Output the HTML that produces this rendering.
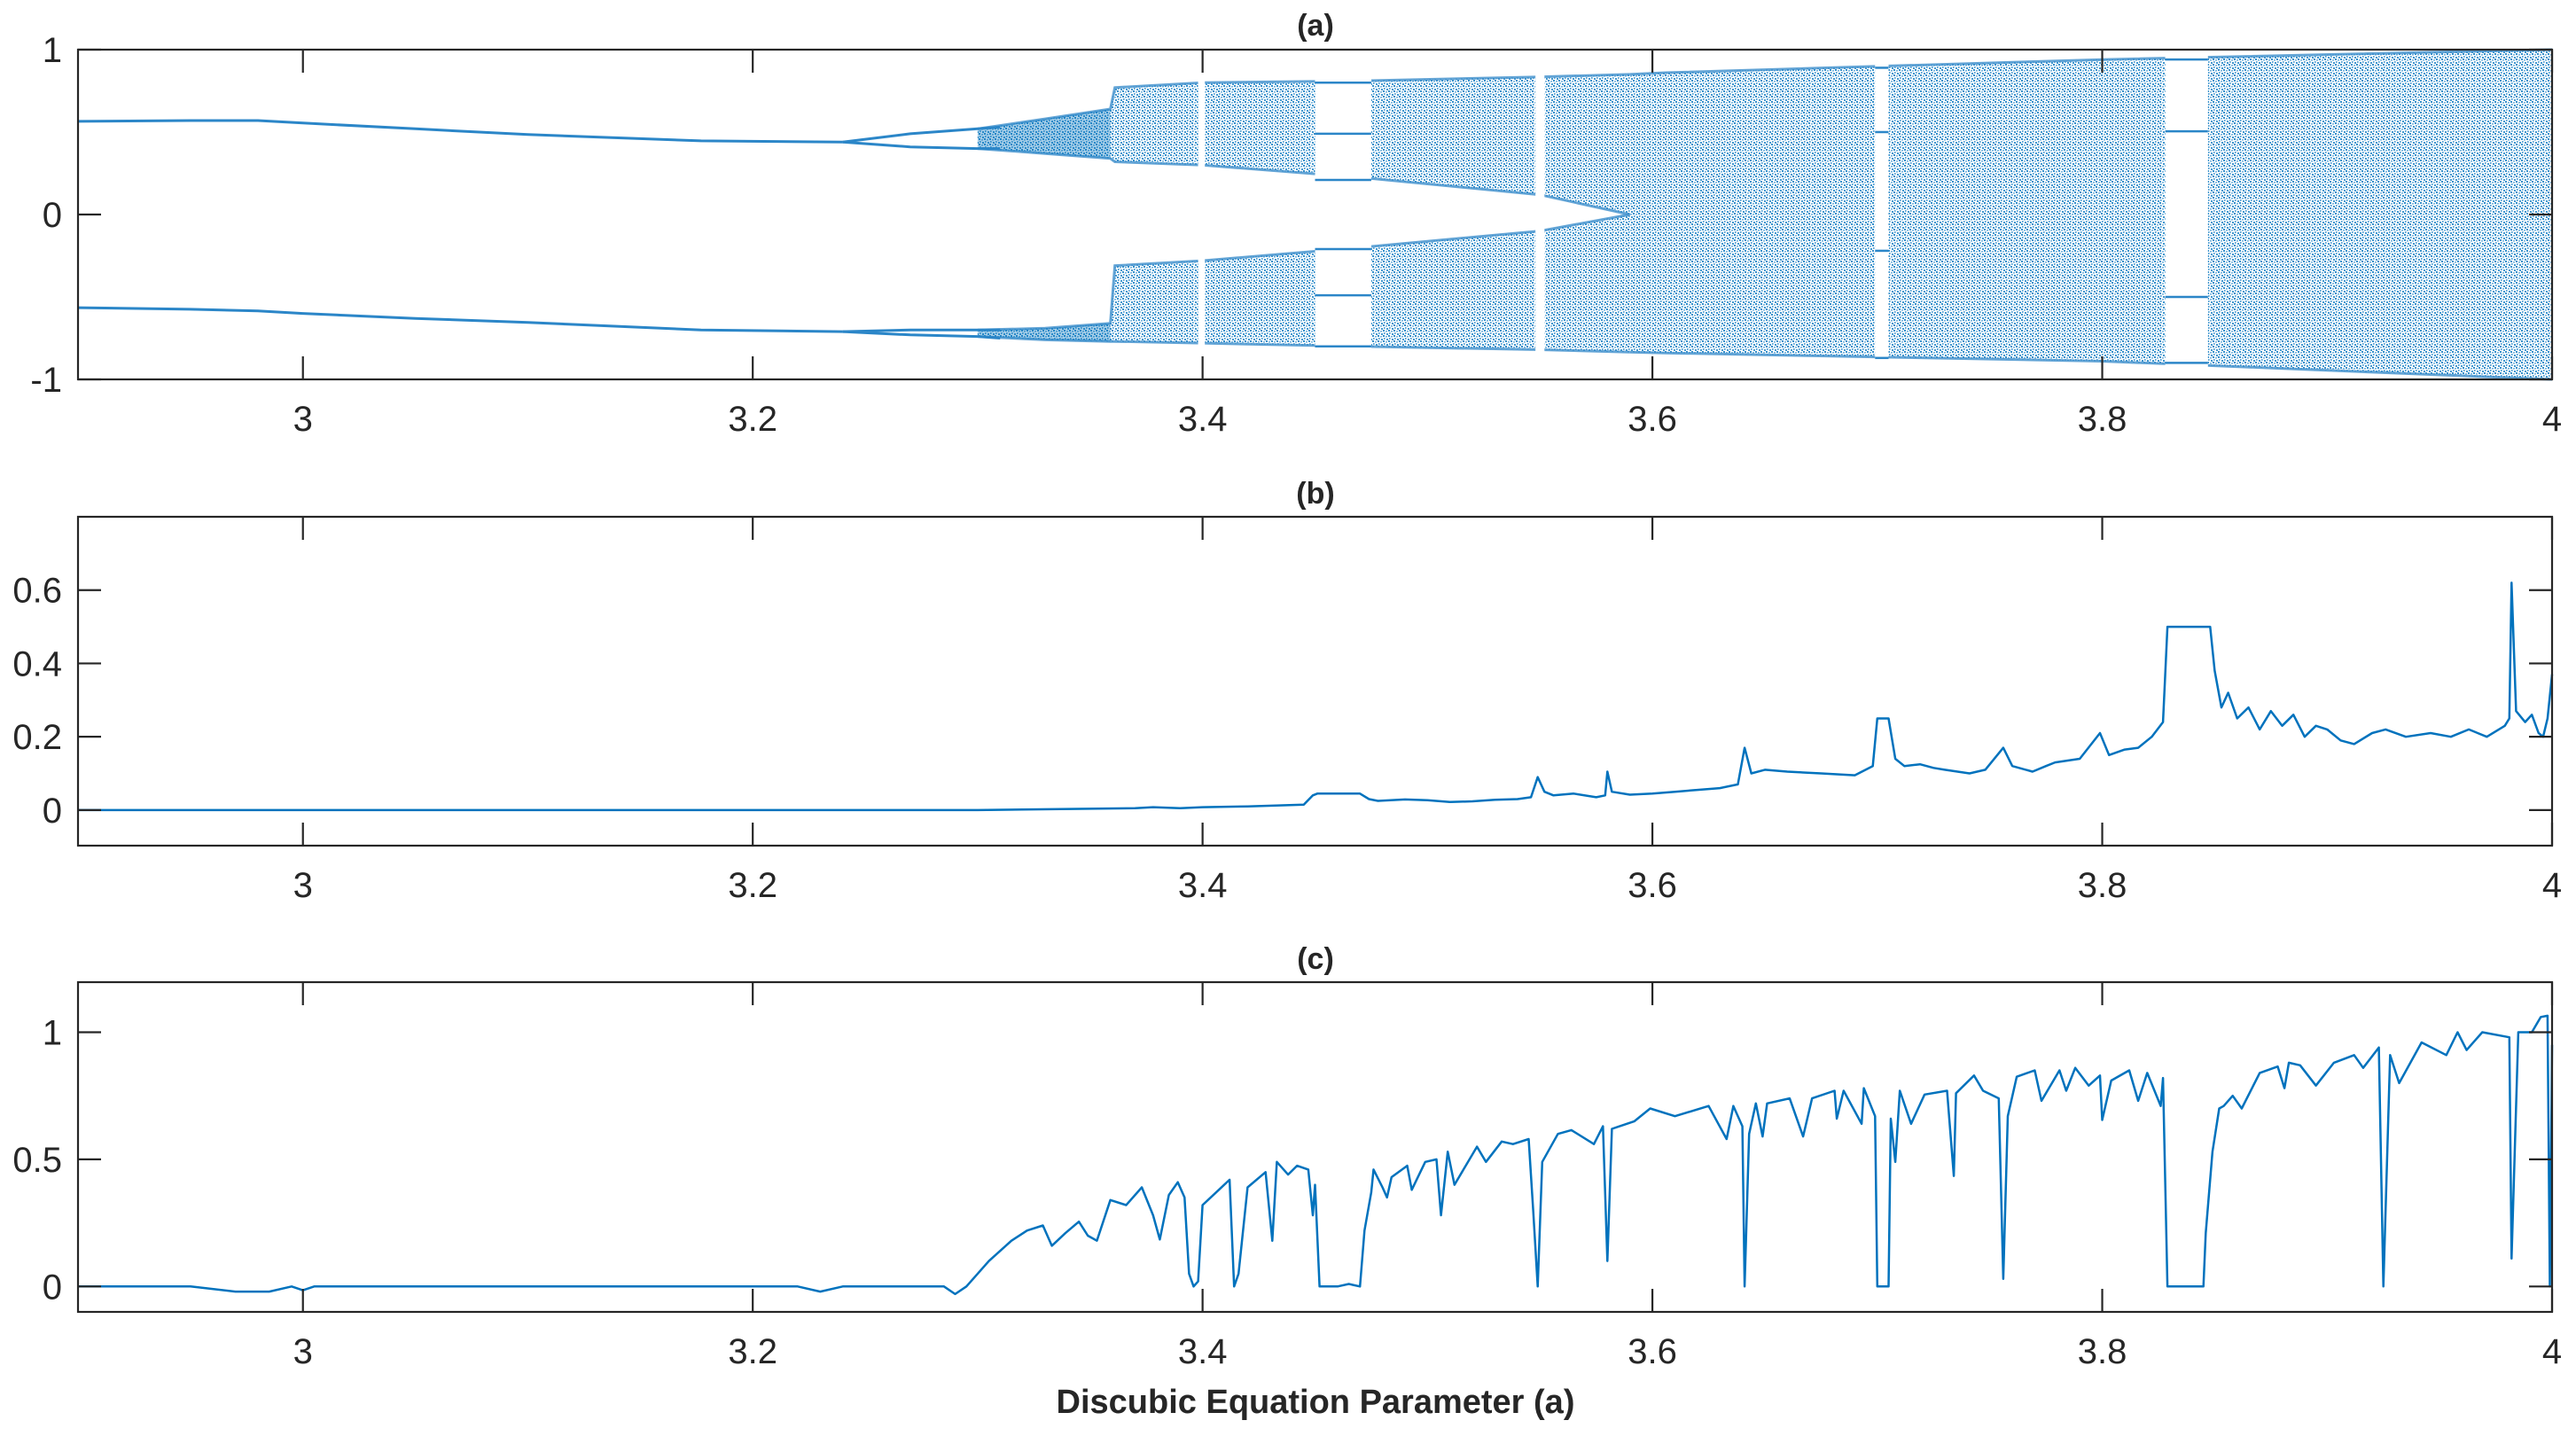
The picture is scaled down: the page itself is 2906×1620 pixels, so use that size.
<!DOCTYPE html>
<html><head><meta charset="utf-8"><style>
html,body{margin:0;padding:0;background:#fff;}
svg{display:block;}
text{font-family:"Liberation Sans",Arial,sans-serif;fill:#262626;}
</style></head><body>
<svg id="fig" width="2906" height="1620" viewBox="0 0 2906 1620" xmlns="http://www.w3.org/2000/svg">
<defs>
<pattern id="speck" width="6" height="6" patternUnits="userSpaceOnUse">
<rect x="0" y="0" width="2" height="2" fill="#0072BD" opacity="0.8"/>
<rect x="3" y="1" width="2" height="1.6" fill="#0072BD" opacity="0.55"/>
<rect x="1" y="3" width="1.6" height="2" fill="#0072BD" opacity="0.65"/>
<rect x="4" y="4" width="2" height="2" fill="#0072BD" opacity="0.75"/>
</pattern>
</defs>
<rect x="0" y="0" width="2906" height="1620" fill="#fff"/>
<g id="gA"></g>
<g id="gB"></g>
<g id="gC"></g>
<text x="1484" y="1594" text-anchor="middle" font-size="38" font-weight="bold">Discubic Equation Parameter (a)</text>
</svg>
<script>
// ---------- shared x axis ----------
const xTicks = [3, 3.2, 3.4, 3.6, 3.8, 4];
const xTickLabels = ["3", "3.2", "3.4", "3.6", "3.8", "4"];

// ---------- panel (a) bifurcation data ----------
const aUpLineX = [2.9, 2.95, 2.98, 3.0, 3.05, 3.1, 3.177, 3.24];
const aUpLineV = [0.565, 0.57, 0.57, 0.555, 0.52, 0.485, 0.447, 0.44];
const aLoLineX = [2.9, 2.95, 2.98, 3.0, 3.05, 3.1, 3.177, 3.24];
const aLoLineV = [-0.565, -0.575, -0.585, -0.60, -0.63, -0.655, -0.70, -0.71];
const aLensX = [3.24, 3.27, 3.30, 3.31];
const aUpLensTop = [0.44, 0.49, 0.52, 0.53];
const aUpLensBot = [0.44, 0.41, 0.40, 0.40];
const aLoLensTop = [-0.71, -0.70, -0.70, -0.70];
const aLoLensBot = [-0.71, -0.73, -0.74, -0.75];
const aBandX = [3.30, 3.33, 3.359, 3.361, 3.40, 3.47, 3.55, 3.59];
const aUpBandTop = [0.52, 0.58, 0.64, 0.77, 0.80, 0.81, 0.835, 0.85];
const aUpBandBot = [0.40, 0.37, 0.34, 0.32, 0.30, 0.225, 0.12, 0.0];
const aLoBandTop = [-0.70, -0.69, -0.66, -0.31, -0.28, -0.20, -0.10, 0.0];
const aLoBandBot = [-0.74, -0.76, -0.77, -0.77, -0.78, -0.80, -0.82, -0.835];
const aMergedX = [3.59, 3.606, 3.80, 4.0];
const aMergedTop = [0.85, 0.86, 0.94, 1.0];
const aMergedBot = [-0.835, -0.84, -0.89, -1.0];
const aWinStart = [3.398, 3.450, 3.548, 3.699, 3.828];
const aWinEnd = [3.401, 3.475, 3.552, 3.705, 3.847];
const aWin2Lines = [0.80, 0.49, 0.21, -0.21, -0.49, -0.80];
const aWin4Lines = [0.89, 0.5, -0.22, -0.87];
const aWin5Lines = [0.94, 0.505, -0.50, -0.90];
const aYTicks = [-1, 0, 1];
const aYTickLabels = ["-1", "0", "1"];

// ---------- panel (b) data ----------
const bX = [2.9, 3.30, 3.37, 3.378, 3.39, 3.40, 3.42, 3.445, 3.449, 3.451, 3.47, 3.474, 3.478, 3.49, 3.50, 3.51, 3.52, 3.53, 3.54, 3.546, 3.549, 3.552, 3.556, 3.565, 3.575, 3.579, 3.580, 3.582, 3.59, 3.60, 3.61, 3.62, 3.63, 3.638, 3.641, 3.644, 3.65, 3.66, 3.675, 3.69, 3.698, 3.700, 3.705, 3.708, 3.712, 3.719, 3.725, 3.73, 3.741, 3.748, 3.756, 3.76, 3.769, 3.775, 3.779, 3.79, 3.799, 3.803, 3.81, 3.816, 3.822, 3.827, 3.829, 3.848, 3.850, 3.853, 3.856, 3.860, 3.865, 3.870, 3.875, 3.880, 3.885, 3.890, 3.895, 3.900, 3.906, 3.912, 3.920, 3.926, 3.935, 3.946, 3.955, 3.963, 3.971, 3.979, 3.981, 3.982, 3.984, 3.988, 3.991, 3.994, 3.996, 3.998, 4.0];
const bV = [0.0, 0.0, 0.005, 0.008, 0.005, 0.008, 0.01, 0.015, 0.04, 0.045, 0.045, 0.03, 0.025, 0.029, 0.027, 0.022, 0.024, 0.028, 0.03, 0.035, 0.09, 0.05, 0.04, 0.045, 0.035, 0.04, 0.105, 0.05, 0.042, 0.045, 0.05, 0.055, 0.06, 0.07, 0.17, 0.1, 0.11, 0.105, 0.1, 0.095, 0.12, 0.25, 0.25, 0.14, 0.12, 0.125, 0.115, 0.11, 0.10, 0.11, 0.17, 0.12, 0.105, 0.12, 0.13, 0.14, 0.21, 0.15, 0.165, 0.17, 0.2, 0.24, 0.5, 0.5, 0.38, 0.28, 0.32, 0.25, 0.28, 0.22, 0.27, 0.23, 0.26, 0.2, 0.23, 0.22, 0.19, 0.18, 0.21, 0.22, 0.2, 0.21, 0.2, 0.22, 0.2, 0.23, 0.25, 0.62, 0.27, 0.24, 0.26, 0.21, 0.2, 0.25, 0.37];
const bYTicks = [0, 0.2, 0.4, 0.6];
const bYTickLabels = ["0", "0.2", "0.4", "0.6"];

// ---------- panel (c) data ----------
const cX = [2.9, 2.95, 2.97, 2.985, 2.995, 3.0, 3.005, 3.22, 3.23, 3.24, 3.285, 3.29, 3.295, 3.305, 3.315, 3.322, 3.329, 3.333, 3.339, 3.345, 3.349, 3.353, 3.359, 3.366, 3.373, 3.378, 3.381, 3.385, 3.389, 3.392, 3.394, 3.396, 3.398, 3.40, 3.406, 3.412, 3.414, 3.416, 3.42, 3.428, 3.431, 3.433, 3.438, 3.442, 3.447, 3.449, 3.45, 3.452, 3.46, 3.465, 3.470, 3.472, 3.475, 3.476, 3.480, 3.482, 3.484, 3.491, 3.493, 3.499, 3.504, 3.506, 3.509, 3.512, 3.522, 3.526, 3.533, 3.538, 3.545, 3.547, 3.549, 3.551, 3.558, 3.564, 3.574, 3.578, 3.580, 3.582, 3.592, 3.599, 3.610, 3.625, 3.633, 3.636, 3.640, 3.641, 3.643, 3.646, 3.649, 3.651, 3.661, 3.667, 3.671, 3.681, 3.682, 3.685, 3.693, 3.694, 3.699, 3.700, 3.705, 3.706, 3.708, 3.710, 3.715, 3.721, 3.731, 3.734, 3.735, 3.743, 3.747, 3.754, 3.756, 3.758, 3.762, 3.770, 3.773, 3.781, 3.784, 3.788, 3.794, 3.799, 3.800, 3.804, 3.812, 3.816, 3.820, 3.826, 3.827, 3.829, 3.845, 3.846, 3.849, 3.852, 3.854, 3.858, 3.862, 3.870, 3.878, 3.881, 3.883, 3.888, 3.895, 3.903, 3.912, 3.916, 3.923, 3.925, 3.928, 3.932, 3.942, 3.953, 3.958, 3.962, 3.969, 3.981, 3.982, 3.985, 3.991, 3.995, 3.998, 3.999, 4.0];
const cV = [0, 0, -0.02, -0.02, 0.0, -0.015, 0, 0, -0.02, 0, 0, -0.03, 0.0, 0.1, 0.18, 0.22, 0.24, 0.16, 0.21, 0.255, 0.2, 0.18, 0.34, 0.32, 0.39, 0.28, 0.185, 0.36, 0.41, 0.35, 0.05, 0.0, 0.02, 0.32, 0.37, 0.42, 0.0, 0.05, 0.39, 0.45, 0.18, 0.49, 0.44, 0.475, 0.46, 0.28, 0.4, 0.0, 0.0, 0.01, 0.0, 0.22, 0.37, 0.46, 0.39, 0.35, 0.43, 0.475, 0.38, 0.49, 0.5, 0.28, 0.53, 0.4, 0.55, 0.49, 0.57, 0.56, 0.58, 0.3, 0.0, 0.49, 0.6, 0.615, 0.56, 0.63, 0.1, 0.62, 0.65, 0.70, 0.67, 0.71, 0.58, 0.71, 0.63, 0.0, 0.6, 0.72, 0.59, 0.72, 0.74, 0.59, 0.74, 0.77, 0.66, 0.77, 0.64, 0.78, 0.67, 0.0, 0.0, 0.66, 0.49, 0.77, 0.64, 0.755, 0.77, 0.435, 0.76, 0.83, 0.77, 0.74, 0.03, 0.67, 0.825, 0.85, 0.73, 0.85, 0.77, 0.86, 0.79, 0.83, 0.655, 0.81, 0.85, 0.73, 0.84, 0.71, 0.82, 0.0, 0.0, 0.21, 0.53, 0.7, 0.71, 0.75, 0.7, 0.84, 0.865, 0.78, 0.88, 0.87, 0.79, 0.88, 0.91, 0.86, 0.94, 0.0, 0.91, 0.8, 0.96, 0.91, 1.0, 0.93, 1.0, 0.98, 0.11, 1.0, 1.0, 1.06, 1.065, 0.0, 0.95];
const cYTicks = [0, 0.5, 1];
const cYTickLabels = ["0", "0.5", "1"];

// ---------- layout ----------
const NS = "http://www.w3.org/2000/svg";
const X0 = 88, X1 = 2879, XMIN = 2.9, XMAX = 4.0;
function sx(a) { return X0 + (a - XMIN) / (XMAX - XMIN) * (X1 - X0); }
function makeY(top, bottom, vmin, vmax) { return v => bottom - (v - vmin) / (vmax - vmin) * (bottom - top); }
function el(tag, attrs, parent) { const e = document.createElementNS(NS, tag); for (const k in attrs) e.setAttribute(k, attrs[k]); parent.appendChild(e); return e; }

function drawAxes(g, top, bottom, sy, yTicks, yLabels, title, titleY) {
  const frame = el('rect', {x: X0, y: top, width: X1 - X0, height: bottom - top, fill: 'none', stroke: '#262626', 'stroke-width': 2.2}, g);
  
  
  xTicks.forEach((t, i) => {
    const x = sx(t);
    const tk = el('path', {d: `M${x},${bottom}v-26M${x},${top}v26`, stroke: '#262626', 'stroke-width': 2.2, fill: 'none'}, g);
    
    
    const lb = el('text', {x: x, y: bottom + 58, 'text-anchor': 'middle', 'font-size': 40}, g);
    lb.textContent = xTickLabels[i];
    
    
  });
  yTicks.forEach((t, i) => {
    const y = sy(t);
    const tk = el('path', {d: `M${X0},${y}h26M${X1},${y}h-26`, stroke: '#262626', 'stroke-width': 2.2, fill: 'none'}, g);
    
    
    const lb = el('text', {x: 70, y: y + 14, 'text-anchor': 'end', 'font-size': 40}, g);
    lb.textContent = yLabels[i];
    
    
  });
  const tt = el('text', {x: 1484, y: titleY, 'text-anchor': 'middle', 'font-size': 34, 'font-weight': 'bold'}, g);
  tt.textContent = title;
  
  
}

function bandPath(xs, tops, bots, sy) {
  let d = '';
  xs.forEach((a, i) => { d += (i ? 'L' : 'M') + sx(a).toFixed(1) + ',' + sy(tops[i]).toFixed(1); });
  for (let i = xs.length - 1; i >= 0; i--) d += 'L' + sx(xs[i]).toFixed(1) + ',' + sy(bots[i]).toFixed(1);
  return d + 'Z';
}
function linePath(xs, vs, sy) {
  return xs.map((a, i) => (i ? 'L' : 'M') + sx(a).toFixed(1) + ',' + sy(vs[i]).toFixed(1)).join('');
}

// ---------- panel a ----------
(function () {
  const g = document.getElementById('gA');
  const top = 56, bottom = 428;
  const sy = makeY(top, bottom, -1, 1);
  const data = el('g', {}, g);
  
  
  const bands = [[aBandX, aUpBandTop, aUpBandBot, 'upper-chaotic-band'], [aBandX, aLoBandTop, aLoBandBot, 'lower-chaotic-band'], [aMergedX, aMergedTop, aMergedBot, 'merged-chaotic-band']];
  bands.forEach(b => {
    const p = el('path', {d: bandPath(b[0], b[1], b[2], sy), fill: 'url(#speck)', stroke: 'none'}, data);
    
    
    [b[1], b[2]].forEach(edge => {
      const e = el('path', {d: linePath(b[0], edge, sy), stroke: '#3d8fcc', 'stroke-width': 3, fill: 'none', 'stroke-opacity': 0.8}, data);
      
      
    });
  });
  const dense = [[aBandX.slice(0, 3), aUpBandTop.slice(0, 3), aUpBandBot.slice(0, 3)], [aBandX.slice(0, 3), aLoBandTop.slice(0, 3), aLoBandBot.slice(0, 3)]];
  dense.forEach(b => {
    const p = el('path', {d: bandPath(b[0], b[1], b[2], sy), fill: '#0072BD', 'fill-opacity': 0.35}, data);
    
    
  });
  aWinStart.forEach((s, i) => {
    const r = el('rect', {x: sx(s), y: top + 2, width: sx(aWinEnd[i]) - sx(s), height: bottom - top - 4, fill: '#fff'}, data);
    
    
  });
  const winSets = [[1, aWin2Lines], [3, aWin4Lines], [4, aWin5Lines]];
  winSets.forEach(ws => {
    ws[1].forEach(v => {
      const l = el('path', {d: `M${sx(aWinStart[ws[0]])},${sy(v)}H${sx(aWinEnd[ws[0]])}`, stroke: '#2b86c8', 'stroke-width': 2.5, fill: 'none'}, data);
      
      
    });
  });
  const lines = [[aUpLineX, aUpLineV], [aLoLineX, aLoLineV], [aLensX, aUpLensTop], [aLensX, aUpLensBot], [aLensX, aLoLensTop], [aLensX, aLoLensBot]];
  lines.forEach(l => {
    const p = el('path', {d: linePath(l[0], l[1], sy), stroke: '#2b86c8', 'stroke-width': 3, fill: 'none'}, data);
    
    
  });
  drawAxes(g, top, bottom, sy, aYTicks, aYTickLabels, '(a)', 40);
})();

// ---------- panel b ----------
(function () {
  const g = document.getElementById('gB');
  const top = 583, bottom = 954;
  const sy = makeY(top, bottom, -0.097, 0.8);
  const p = el('path', {d: linePath(bX, bV, sy), stroke: '#0072BD', 'stroke-width': 2.5, fill: 'none', 'stroke-linejoin': 'round'}, g);
  
  
  drawAxes(g, top, bottom, sy, bYTicks, bYTickLabels, '(b)', 568);
})();

// ---------- panel c ----------
(function () {
  const g = document.getElementById('gC');
  const top = 1108, bottom = 1480;
  const sy = makeY(top, bottom, -0.1, 1.197);
  const p = el('path', {d: linePath(cX, cV, sy), stroke: '#0072BD', 'stroke-width': 2.5, fill: 'none', 'stroke-linejoin': 'round'}, g);
  
  
  drawAxes(g, top, bottom, sy, cYTicks, cYTickLabels, '(c)', 1093);
})();
</script>
</body></html>
